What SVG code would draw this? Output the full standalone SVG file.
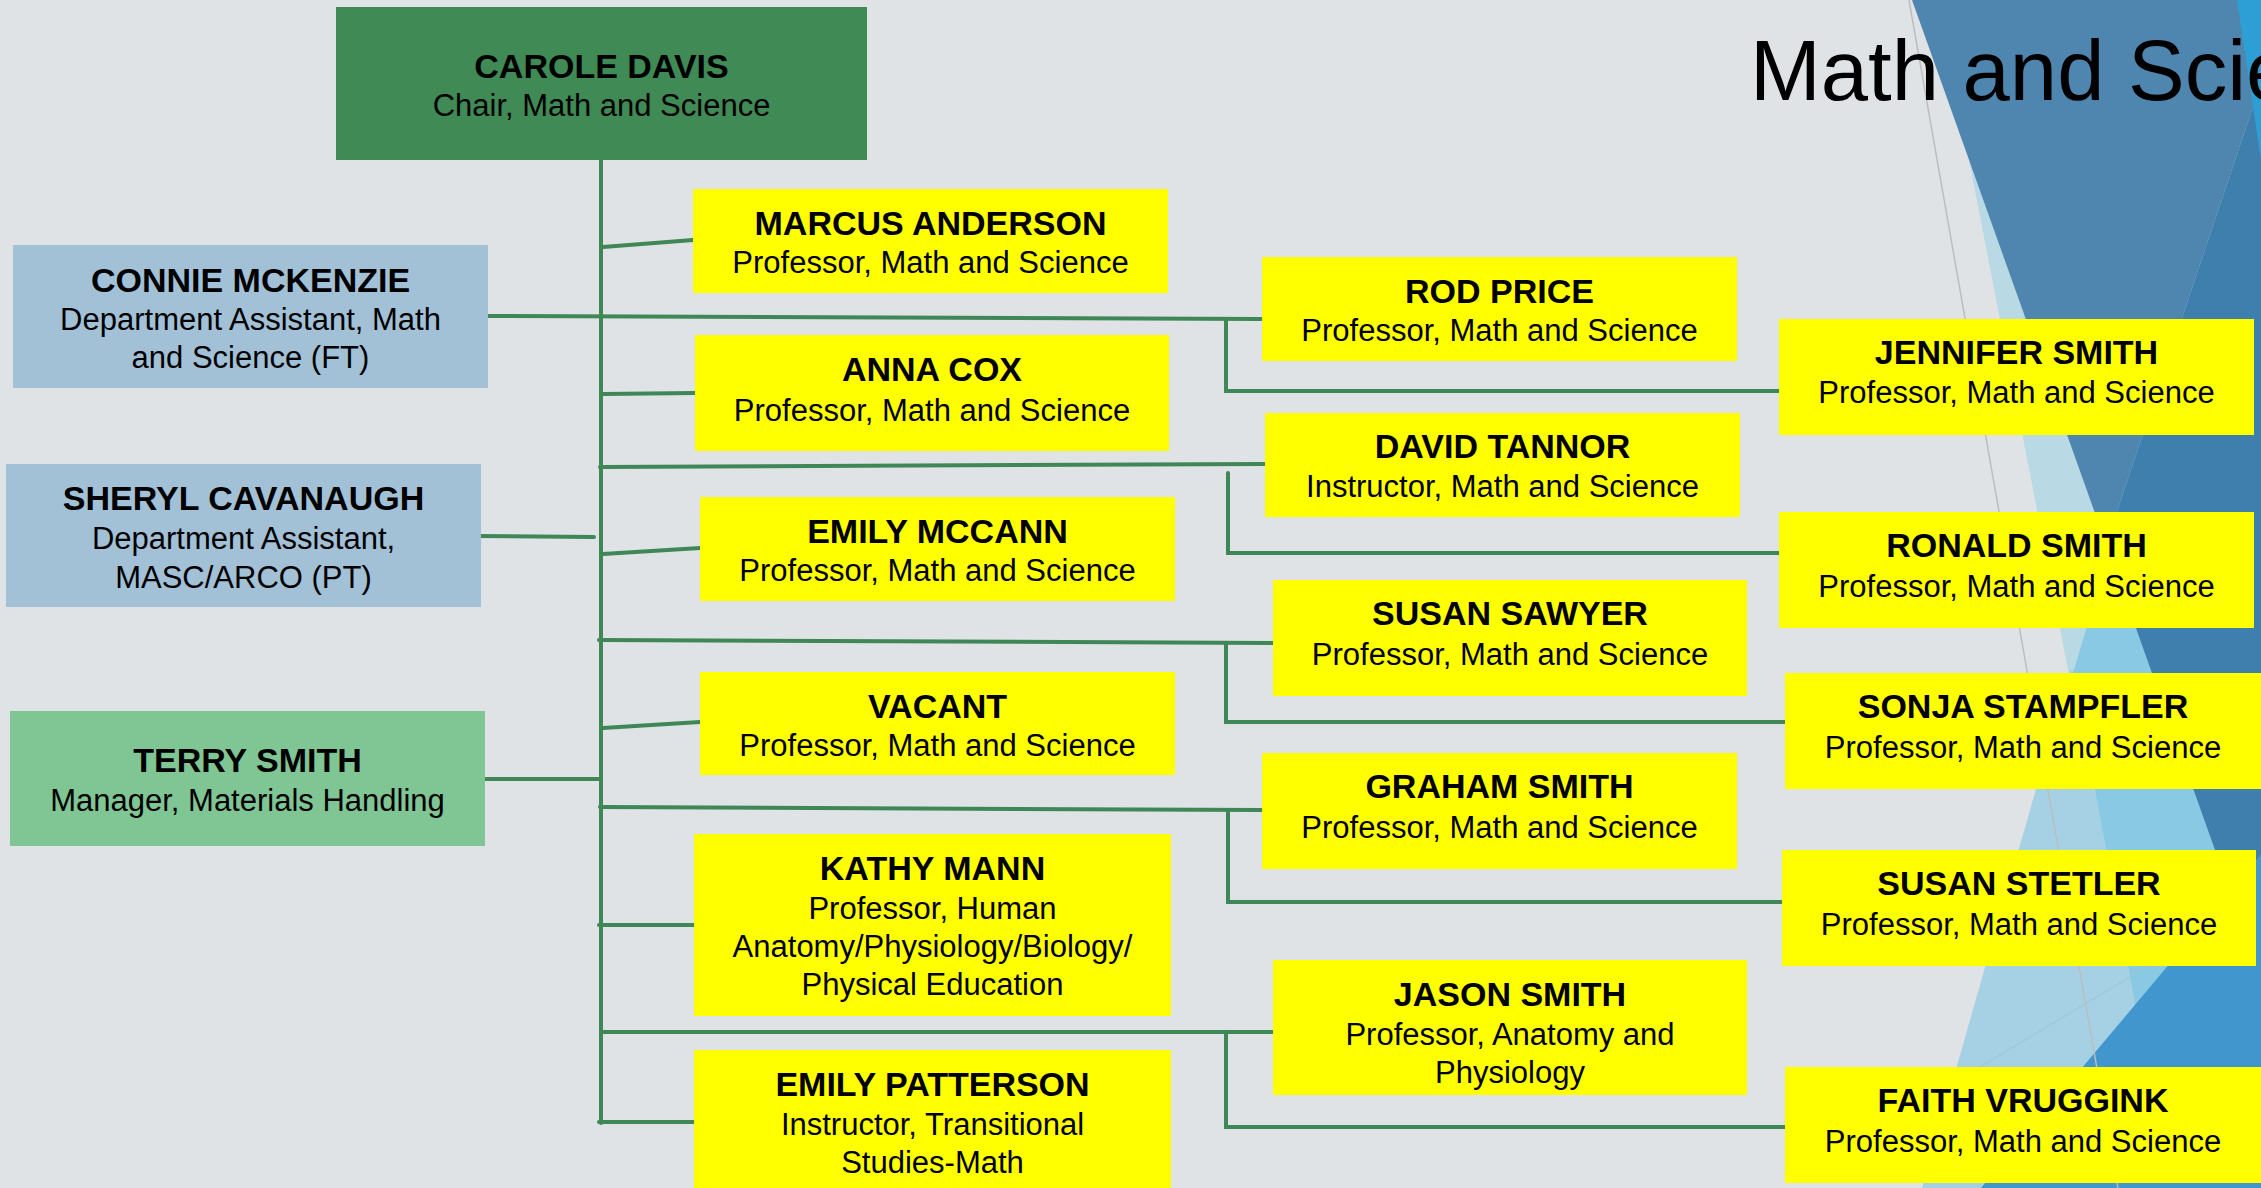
<svg xmlns="http://www.w3.org/2000/svg" width="2261" height="1188" viewBox="0 0 2261 1188">
<style>
.bg{fill:#DFE3E6}
.yb{fill:#FFFF00}
.bb{fill:#A2C1D6}
.gb{fill:#80C594}
.db{fill:#3F8A55}
.nm{font-family:"Liberation Sans",Arial,sans-serif;font-weight:bold;font-size:34px;fill:#000;text-anchor:middle}
.tt{font-family:"Liberation Sans",Arial,sans-serif;font-size:31px;fill:#000;text-anchor:middle}
.cn{fill:none;stroke:#3F8756;stroke-width:4;stroke-linecap:round}
</style>
<rect class="bg" x="0" y="0" width="2261" height="1188"/>
<g id="decoration">
<polygon points="1938,0 2261,0 2261,680 2070,680" fill="#B9D9E4"/>
<polygon points="2070,670 2261,670 2261,1188 1922,1188" fill="#A6D1E4"/>
<polygon points="2095,600 2261,600 2261,1188 2170,1188 2073,673" fill="#8AC9E3"/>
<polygon points="1912,0 2261,0 2261,83 2106,544" fill="#4E86AF"/>
<polygon points="2261,83 2106,544 2230,892 2261,855" fill="#3E7FAD"/>
<polygon points="2237,0 2261,0 2261,160" fill="#2E9FD5"/>
<polygon points="2261,855 2261,1188 1981,1188" fill="#4296CE"/>
<line x1="1950" y1="1085" x2="2175" y2="950" stroke="#98C3D8" stroke-width="1"/>
<line x1="1909" y1="0" x2="2118" y2="1188" stroke="#BDBDBD" stroke-width="1.5"/>
</g>
<text x="1750" y="100" font-family="Liberation Sans, Arial, sans-serif" font-size="85" fill="#000">Math and Science</text>
<g id="connectors" class="cn">
<path d="M601 160 V1123"/>
<path d="M603 247 L693 240"/>
<path d="M487 316 L1262 319"/>
<path d="M1226 319 V391 H1779"/>
<path d="M603 394 L695 393"/>
<path d="M600 467 L1265 464"/>
<path d="M1228 473 V553 H1779"/>
<path d="M476 536 L594 537"/>
<path d="M603 554 L700 548"/>
<path d="M599 640 L1273 643"/>
<path d="M1226 643 V722 H1785"/>
<path d="M603 728 L700 722"/>
<path d="M485 779 L601 779"/>
<path d="M600 807 L1262 810"/>
<path d="M1228 810 V902 H1782"/>
<path d="M599 925 H694"/>
<path d="M601 1032 L1273 1032"/>
<path d="M1226 1032 V1127 H1785"/>
<path d="M599 1122 H694"/>
</g>
<g id="carole"><rect class="db" x="336" y="7" width="531" height="153"/><text class="nm" x="601.5" y="78">CAROLE DAVIS</text><text class="tt" x="601.5" y="116">Chair, Math and Science</text></g>
<g id="connie"><rect class="bb" x="13" y="245" width="475" height="143"/><text class="nm" x="250.5" y="292">CONNIE MCKENZIE</text><text class="tt" x="250.5" y="330">Department Assistant, Math</text><text class="tt" x="250.5" y="368">and Science (FT)</text></g>
<g id="sheryl"><rect class="bb" x="6" y="464" width="475" height="143"/><text class="nm" x="243.5" y="510">SHERYL CAVANAUGH</text><text class="tt" x="243.5" y="549">Department Assistant,</text><text class="tt" x="243.5" y="588">MASC/ARCO (PT)</text></g>
<g id="terry"><rect class="gb" x="10" y="711" width="475" height="135"/><text class="nm" x="247.5" y="772">TERRY SMITH</text><text class="tt" x="247.5" y="811">Manager, Materials Handling</text></g>
<g id="marcus"><rect class="yb" x="693" y="189" width="475" height="104"/><text class="nm" x="930.5" y="235">MARCUS ANDERSON</text><text class="tt" x="930.5" y="273">Professor, Math and Science</text></g>
<g id="anna"><rect class="yb" x="695" y="335" width="474" height="116"/><text class="nm" x="932" y="381">ANNA COX</text><text class="tt" x="932" y="421">Professor, Math and Science</text></g>
<g id="emily-mccann"><rect class="yb" x="700" y="497" width="475" height="104"/><text class="nm" x="937.5" y="543">EMILY MCCANN</text><text class="tt" x="937.5" y="581">Professor, Math and Science</text></g>
<g id="vacant"><rect class="yb" x="700" y="672" width="475" height="103"/><text class="nm" x="937.5" y="718">VACANT</text><text class="tt" x="937.5" y="756">Professor, Math and Science</text></g>
<g id="kathy"><rect class="yb" x="694" y="834" width="477" height="182"/><text class="nm" x="932.5" y="880">KATHY MANN</text><text class="tt" x="932.5" y="919">Professor, Human</text><text class="tt" x="932.5" y="957">Anatomy/Physiology/Biology/</text><text class="tt" x="932.5" y="995">Physical Education</text></g>
<g id="emily-patterson"><rect class="yb" x="694" y="1050" width="477" height="150"/><text class="nm" x="932.5" y="1096">EMILY PATTERSON</text><text class="tt" x="932.5" y="1135">Instructor, Transitional</text><text class="tt" x="932.5" y="1173">Studies-Math</text></g>
<g id="rod"><rect class="yb" x="1262" y="257" width="475" height="104"/><text class="nm" x="1499.5" y="303">ROD PRICE</text><text class="tt" x="1499.5" y="341">Professor, Math and Science</text></g>
<g id="david"><rect class="yb" x="1265" y="413" width="475" height="104"/><text class="nm" x="1502.5" y="458">DAVID TANNOR</text><text class="tt" x="1502.5" y="497">Instructor, Math and Science</text></g>
<g id="susan-sawyer"><rect class="yb" x="1273" y="580" width="474" height="116"/><text class="nm" x="1510" y="625">SUSAN SAWYER</text><text class="tt" x="1510" y="665">Professor, Math and Science</text></g>
<g id="graham"><rect class="yb" x="1262" y="753" width="475" height="116"/><text class="nm" x="1499.5" y="798">GRAHAM SMITH</text><text class="tt" x="1499.5" y="838">Professor, Math and Science</text></g>
<g id="jason"><rect class="yb" x="1273" y="960" width="474" height="135"/><text class="nm" x="1510" y="1006">JASON SMITH</text><text class="tt" x="1510" y="1045">Professor, Anatomy and</text><text class="tt" x="1510" y="1083">Physiology</text></g>
<g id="jennifer"><rect class="yb" x="1779" y="319" width="475" height="116"/><text class="nm" x="2016.5" y="364">JENNIFER SMITH</text><text class="tt" x="2016.5" y="403">Professor, Math and Science</text></g>
<g id="ronald"><rect class="yb" x="1779" y="512" width="475" height="116"/><text class="nm" x="2016.5" y="557">RONALD SMITH</text><text class="tt" x="2016.5" y="597">Professor, Math and Science</text></g>
<g id="sonja"><rect class="yb" x="1785" y="673" width="476" height="116"/><text class="nm" x="2023" y="718">SONJA STAMPFLER</text><text class="tt" x="2023" y="758">Professor, Math and Science</text></g>
<g id="susan-stetler"><rect class="yb" x="1782" y="850" width="474" height="116"/><text class="nm" x="2019" y="895">SUSAN STETLER</text><text class="tt" x="2019" y="935">Professor, Math and Science</text></g>
<g id="faith"><rect class="yb" x="1785" y="1067" width="476" height="116"/><text class="nm" x="2023" y="1112">FAITH VRUGGINK</text><text class="tt" x="2023" y="1152">Professor, Math and Science</text></g>
</svg>
